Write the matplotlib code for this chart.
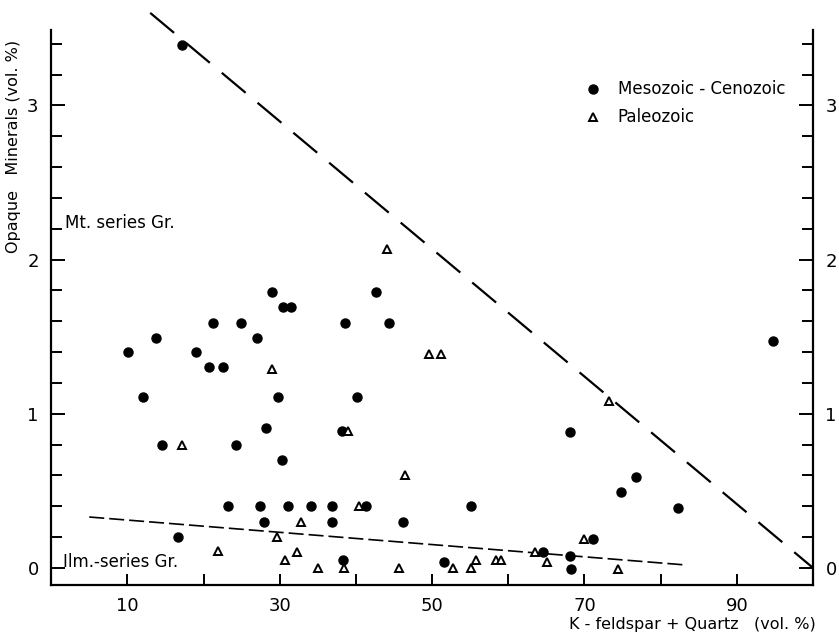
import numpy as np
import matplotlib.pyplot as plt

# Mesozoic - Cenozoic (filled dots)
meso_x = [17.2, 29.0, 42.7, 30.4, 31.5, 21.3, 24.9, 38.6, 44.4, 13.8, 27.0, 10.1,
          19.0, 20.7, 22.6, 12.1, 29.8, 40.2, 28.2, 38.2, 14.5, 24.2, 30.3, 23.2,
          27.4, 31.1, 34.1, 36.9, 41.3, 55.1, 82.3, 28.0, 36.9, 46.2, 16.7, 38.3,
          51.6, 94.8, 68.1, 76.8, 74.8, 71.1, 64.6, 68.1, 68.2]
meso_y = [3.39, 1.79, 1.79, 1.69, 1.69, 1.59, 1.59, 1.59, 1.59, 1.49, 1.49, 1.40,
          1.40, 1.30, 1.30, 1.11, 1.11, 1.11, 0.91, 0.89, 0.80, 0.80, 0.70, 0.40,
          0.40, 0.40, 0.40, 0.40, 0.40, 0.40, 0.39, 0.30, 0.30, 0.30, 0.20, 0.05,
          0.04, 1.47, 0.88, 0.59, 0.49, 0.19, 0.10, 0.08, -0.01]

# Paleozoic (open triangles)
paleo_x = [44.1, 49.6, 51.2, 29.0, 73.2, 39.0, 17.2, 46.5, 40.4, 32.8, 29.7, 69.9,
           21.9, 32.3, 63.5, 30.7, 55.8, 58.4, 59.1, 65.1, 35.0, 38.5, 45.7, 52.8,
           55.1, 74.4]
paleo_y = [2.07, 1.39, 1.39, 1.29, 1.08, 0.89, 0.80, 0.60, 0.40, 0.30, 0.20, 0.19,
           0.11, 0.10, 0.10, 0.05, 0.05, 0.05, 0.05, 0.04, 0.00, 0.00, 0.00, 0.00,
           0.00, -0.01]

# boundary lines
upper_x = [13, 100]
upper_y = [3.6, 0]
lower_x = [5, 83]
lower_y = [0.33, 0.02]

fig = plt.figure(figsize=(8.39, 6.35), dpi=100)
ax = fig.add_axes([0.061, 0.079, 0.908, 0.874])

ax.plot(upper_x, upper_y, color='k', lw=1.6, dashes=(14, 7), clip_on=False)
ax.plot(lower_x, lower_y, color='k', lw=1.2, dashes=(9, 3))
ax.plot(meso_x, meso_y, 'o', color='k', ms=6.5, ls='none', label='Mesozoic - Cenozoic',
        clip_on=False)
ax.plot(paleo_x, paleo_y, '^', mfc='white', mec='k', mew=1.4, ms=6, ls='none',
        label='Paleozoic', clip_on=False)

ax.set_xlim(0, 100)
ax.set_ylim(-0.11, 3.49)
ax.spines['top'].set_visible(False)
for s in ['left', 'right', 'bottom']:
    ax.spines[s].set_linewidth(1.6)

ax.set_xticks(range(10, 100, 10))
ax.set_xticklabels(['10', '', '30', '', '50', '', '70', '', '90'], fontsize=13)
ax.set_yticks([0, 1, 2, 3])
ax.set_yticklabels(['0', '1', '2', '3'], fontsize=13)
ax.set_yticks(np.arange(0, 3.5, 0.2), minor=True)
ax.tick_params(axis='x', direction='in', length=8, width=1.4, pad=9)
ax.tick_params(axis='y', which='both', direction='in', left=True, right=True,
               labelright=True, width=1.4, pad=9)
ax.tick_params(axis='y', which='major', length=10)
ax.tick_params(axis='y', which='minor', length=8)

ax.text(1.8, 2.24, 'Mt. series Gr.', fontsize=12, va='center', ha='left')
ax.text(1.6, 0.04, 'Ilm.-series Gr.', fontsize=12, va='center', ha='left')

ax.set_ylabel('Opaque   Minerals (vol. %)', fontsize=11.5)
ax.yaxis.set_label_coords(-0.04, 0.79)
ax.set_xlabel('K - feldspar + Quartz   (vol. %)', fontsize=11.5, ha='right', va='center')
ax.xaxis.set_label_coords(1.003, -0.072)

ax.legend(loc='upper left', bbox_to_anchor=(0.68, 0.936), frameon=False,
          handlelength=1, handletextpad=1.0, labelspacing=0.6, fontsize=12)

plt.savefig('out.png', dpi=100)
